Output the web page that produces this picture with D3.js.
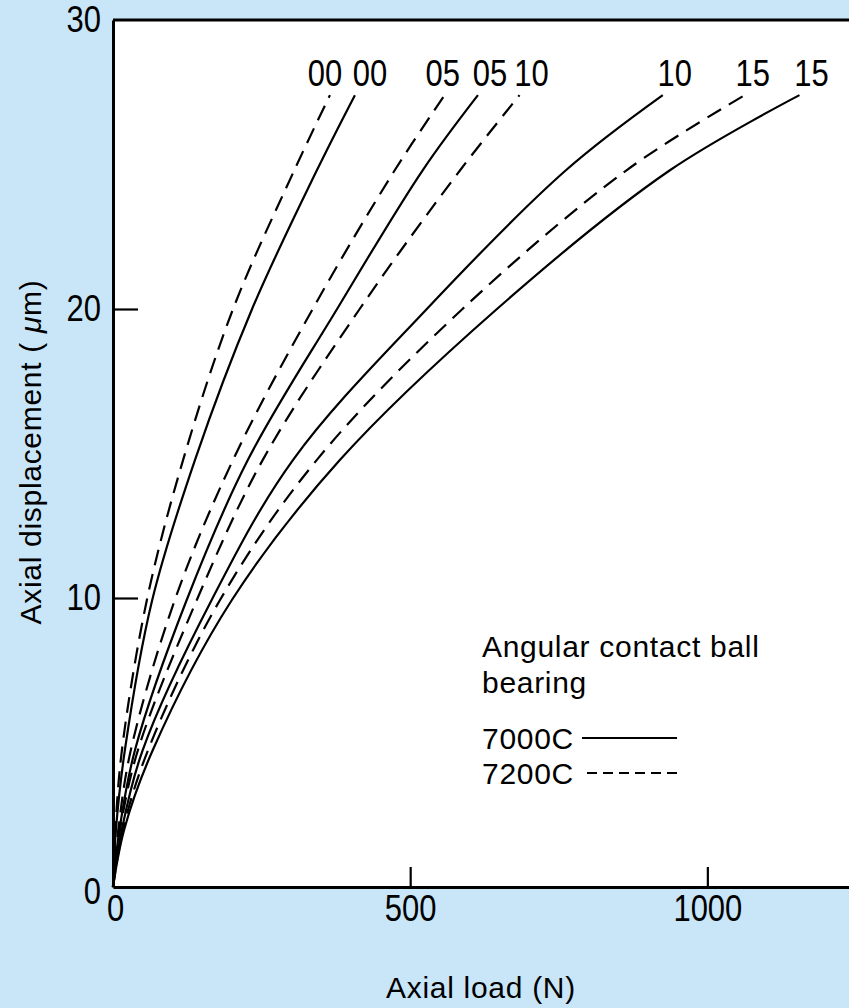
<!DOCTYPE html>
<html>
<head>
<meta charset="utf-8">
<script src="https://cdn.jsdelivr.net/npm/d3@7"></script>
<style>
  html, body { margin: 0; padding: 0; background: #c9e6f8; }
  svg { display: block; }
  .tick text { font-family: "Liberation Sans", Arial, sans-serif; font-size: 36px; fill: #000; }
  .curve-label { font-family: "Liberation Sans", Arial, sans-serif; font-size: 36px; }
  .txt { font-family: "Liberation Sans", Arial, sans-serif; font-size: 30px; letter-spacing: 0.7px; fill: #000; }
</style>
</head>
<body>
<div id="chart"></div>
<script>
const displacement = [0, 2, 4.74, 9.93, 14.78, 20, 24.8, 27.4];

// axial load (N) for each curve at those displacements
const load7000C_00 = [0, 5, 20, 66, 138, 234, 343, 407];
const load7200C_00 = [0, 4, 15, 57, 118, 202, 305, 365];
const load7000C_05 = [0, 11, 37, 124, 227, 377, 521, 614];
const load7200C_05 = [0, 9, 30, 104, 202, 336, 474, 558];
const load7000C_10 = [0, 15, 50, 166, 303, 528, 762, 925];
const load7200C_10 = [0, 12, 42, 141, 252, 415, 584, 684];
const load7000C_15 = [0, 19, 67, 200, 382, 646, 937, 1155];
const load7200C_15 = [0, 17, 59, 180, 343, 588, 864, 1063];

const seriesNames = ["00", "00", "05", "05", "10", "10", "15", "15"];
const seriesType  = ["7200C", "7000C", "7200C", "7000C", "7200C", "7000C", "7200C", "7000C"];
const seriesLoads = [load7200C_00, load7000C_00, load7200C_05, load7000C_05,
                     load7200C_10, load7000C_10, load7200C_15, load7000C_15];

const xTicks = [0, 500, 1000];
const yTicks = [0, 10, 20, 30];

const legendTitle = ["Angular contact ball", "bearing"];
const legendItems = ["7000C", "7200C"];

const width = 849, height = 1008;
const svg = d3.select("#chart").append("svg")
    .attr("width", width)
    .attr("height", height);

const x = d3.scaleLinear().domain([0, 1240]).range([113, 850]);
const y = d3.scaleLinear().domain([0, 30]).range([887, 20]);

// squeeze digits a bit, the original uses a condensed face
function narrow(sel, k) {
    sel.each(function () {
        const w = this.getComputedTextLength();
        d3.select(this).attr("textLength", w * k).attr("lengthAdjust", "spacingAndGlyphs");
    });
}

// plot area
svg.append("rect")
    .attr("x", x(0)).attr("y", y(30))
    .attr("width", width - x(0)).attr("height", y(0) - y(30))
    .attr("fill", "#fff");

// curves
const line = d3.line()
    .x(d => x(d[0]))
    .y(d => y(d[1]))
    .curve(d3.curveCatmullRom.alpha(0.5));

const labelDx = [-5, 15, -2, 12, 12, 12, 8, 12];

seriesLoads.forEach((loads, i) => {
    const pts = loads.map((l, j) => [l, displacement[j]]);
    svg.append("path")
        .attr("d", line(pts))
        .attr("fill", "none")
        .attr("stroke", "#000")
        .attr("stroke-width", 2.2)
        .attr("stroke-dasharray", seriesType[i] === "7200C" ? "16,9" : null);
    const last = pts[pts.length - 1];
    svg.append("text")
        .attr("class", "curve-label")
        .attr("x", x(last[0]) + labelDx[i])
        .attr("y", 86)
        .attr("text-anchor", "middle")
        .text(seriesNames[i]);
});
narrow(svg.selectAll(".curve-label"), 0.86);

// axes
const xAxis = svg.append("g")
    .attr("transform", `translate(0,${y(0)})`)
    .call(d3.axisBottom(x).tickValues(xTicks).tickFormat(d3.format("d"))
        .tickSize(-20).tickPadding(8).tickSizeOuter(0));
xAxis.select(".domain").attr("stroke-width", 3);
xAxis.selectAll(".tick line").attr("stroke-width", 2.2);
xAxis.selectAll(".tick").filter(d => d === 0).select("line").remove();
xAxis.selectAll(".tick").filter(d => d === 0).select("text").attr("x", 2);

const yAxis = svg.append("g")
    .attr("transform", `translate(${x(0)},0)`)
    .call(d3.axisLeft(y).tickValues(yTicks).tickSize(-25).tickPadding(12).tickSizeOuter(0));
yAxis.select(".domain").attr("stroke-width", 3);
yAxis.selectAll(".tick line").attr("stroke-width", 2.2);
yAxis.selectAll(".tick").filter(d => d === 0 || d === 30).select("line").remove();
yAxis.selectAll(".tick").filter(d => d === 0).select("text").attr("dy", "0.45em");

narrow(svg.selectAll(".tick text"), 0.86);

// top border
svg.append("line")
    .attr("x1", x(0)).attr("x2", width)
    .attr("y1", y(30)).attr("y2", y(30))
    .attr("stroke", "#000").attr("stroke-width", 3);

// axis titles
svg.append("text")
    .attr("class", "txt")
    .attr("x", 481).attr("y", 998)
    .attr("text-anchor", "middle")
    .text("Axial load (N)");

const yTitle = svg.append("text")
    .attr("class", "txt")
    .attr("transform", "translate(41,452) rotate(-90)")
    .attr("text-anchor", "middle");
yTitle.append("tspan").text("Axial displacement ( ");
yTitle.append("tspan").attr("font-style", "italic").text("μ");
yTitle.append("tspan").text("m)");

// legend
legendTitle.forEach((t, i) => {
    svg.append("text")
        .attr("class", "txt")
        .attr("x", 482).attr("y", 657 + i * 36)
        .text(t);
});
legendItems.forEach((t, i) => {
    const yy = 749 + i * 35;
    svg.append("text")
        .attr("class", "txt")
        .attr("x", 482).attr("y", yy)
        .text(t);
    svg.append("line")
        .attr("x1", i === 0 ? 582 : 587).attr("x2", 677)
        .attr("y1", yy - 11).attr("y2", yy - 11)
        .attr("stroke", "#000").attr("stroke-width", 2.2)
        .attr("stroke-dasharray", i === 0 ? null : "10,6");
});
</script>
</body>
</html>
